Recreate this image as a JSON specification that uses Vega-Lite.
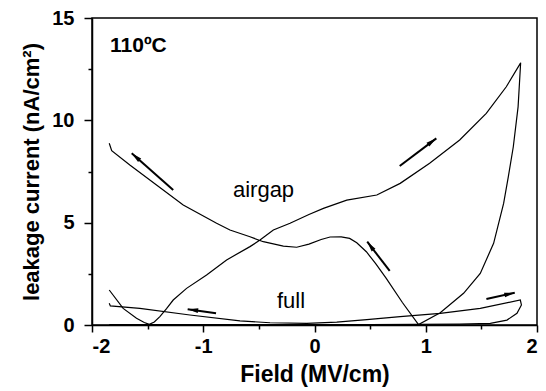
{
  "$schema": "https://vega.github.io/schema/vega-lite/v6.json",
  "width": 445,
  "height": 307,
  "autosize": "none",
  "padding": {"left": 92, "top": 18, "right": 9, "bottom": 66},
  "background": "white",
  "config": {
    "view": {"stroke": "black", "strokeWidth": 1.5},
    "font": "Liberation Sans",
    "axis": {"grid": false, "domainColor": "black", "domainWidth": 1.5, "tickColor": "black", "tickWidth": 1.5, "labelColor": "black", "titleColor": "black", "labelFont": "Liberation Sans", "titleFont": "Liberation Sans", "labelFontWeight": "bold", "titleFontWeight": "bold"}
  },
  "datasets": {
    "curves": [
      {"series": "airgap", "order": 1, "x": -1.845, "y": 1.71},
      {"series": "airgap", "order": 2, "x": -1.72, "y": 0.81},
      {"series": "airgap", "order": 3, "x": -1.6, "y": 0.33},
      {"series": "airgap", "order": 4, "x": -1.53, "y": 0.12},
      {"series": "airgap", "order": 5, "x": -1.485, "y": 0.03},
      {"series": "airgap", "order": 6, "x": -1.44, "y": 0.15},
      {"series": "airgap", "order": 7, "x": -1.39, "y": 0.41},
      {"series": "airgap", "order": 8, "x": -1.33, "y": 0.8},
      {"series": "airgap", "order": 9, "x": -1.27, "y": 1.22},
      {"series": "airgap", "order": 10, "x": -1.15, "y": 1.79},
      {"series": "airgap", "order": 11, "x": -0.97, "y": 2.44},
      {"series": "airgap", "order": 12, "x": -0.79, "y": 3.18},
      {"series": "airgap", "order": 13, "x": -0.58, "y": 3.83},
      {"series": "airgap", "order": 14, "x": -0.49, "y": 4.15},
      {"series": "airgap", "order": 15, "x": -0.37, "y": 4.64},
      {"series": "airgap", "order": 16, "x": -0.22, "y": 4.97},
      {"series": "airgap", "order": 17, "x": -0.05, "y": 5.4},
      {"series": "airgap", "order": 18, "x": 0.08, "y": 5.7},
      {"series": "airgap", "order": 19, "x": 0.29, "y": 6.1},
      {"series": "airgap", "order": 20, "x": 0.56, "y": 6.35},
      {"series": "airgap", "order": 21, "x": 0.77, "y": 6.92},
      {"series": "airgap", "order": 22, "x": 1.035, "y": 7.9},
      {"series": "airgap", "order": 23, "x": 1.305, "y": 9.04},
      {"series": "airgap", "order": 24, "x": 1.544, "y": 10.34},
      {"series": "airgap", "order": 25, "x": 1.724, "y": 11.64},
      {"series": "airgap", "order": 26, "x": 1.853, "y": 12.81},
      {"series": "airgap", "order": 27, "x": 1.83, "y": 10.66},
      {"series": "airgap", "order": 28, "x": 1.787, "y": 8.71},
      {"series": "airgap", "order": 29, "x": 1.742, "y": 7.24},
      {"series": "airgap", "order": 30, "x": 1.7, "y": 5.94},
      {"series": "airgap", "order": 31, "x": 1.61, "y": 3.99},
      {"series": "airgap", "order": 32, "x": 1.49, "y": 2.52},
      {"series": "airgap", "order": 33, "x": 1.34, "y": 1.55},
      {"series": "airgap", "order": 34, "x": 1.13, "y": 0.6},
      {"series": "airgap", "order": 35, "x": 0.935, "y": 0.02},
      {"series": "airgap", "order": 36, "x": 0.79, "y": 1.1},
      {"series": "airgap", "order": 37, "x": 0.645, "y": 2.28},
      {"series": "airgap", "order": 38, "x": 0.55, "y": 3.0},
      {"series": "airgap", "order": 39, "x": 0.466, "y": 3.58},
      {"series": "airgap", "order": 40, "x": 0.38, "y": 4.02},
      {"series": "airgap", "order": 41, "x": 0.316, "y": 4.23},
      {"series": "airgap", "order": 42, "x": 0.24, "y": 4.31},
      {"series": "airgap", "order": 43, "x": 0.14, "y": 4.3},
      {"series": "airgap", "order": 44, "x": 0.06, "y": 4.18},
      {"series": "airgap", "order": 45, "x": -0.05, "y": 3.95},
      {"series": "airgap", "order": 46, "x": -0.16, "y": 3.8},
      {"series": "airgap", "order": 47, "x": -0.28, "y": 3.85},
      {"series": "airgap", "order": 48, "x": -0.46, "y": 4.07},
      {"series": "airgap", "order": 49, "x": -0.58, "y": 4.31},
      {"series": "airgap", "order": 50, "x": -0.76, "y": 4.64},
      {"series": "airgap", "order": 51, "x": -0.88, "y": 4.97},
      {"series": "airgap", "order": 52, "x": -1.18, "y": 5.86},
      {"series": "airgap", "order": 53, "x": -1.42, "y": 6.84},
      {"series": "airgap", "order": 54, "x": -1.66, "y": 7.82},
      {"series": "airgap", "order": 55, "x": -1.823, "y": 8.52},
      {"series": "airgap", "order": 56, "x": -1.845, "y": 8.88},
      {"series": "full", "order": 1, "x": -1.845, "y": 1.06},
      {"series": "full", "order": 2, "x": -1.835, "y": 0.93},
      {"series": "full", "order": 3, "x": -1.57, "y": 0.81},
      {"series": "full", "order": 4, "x": -1.12, "y": 0.49},
      {"series": "full", "order": 5, "x": -0.67, "y": 0.2},
      {"series": "full", "order": 6, "x": -0.4, "y": 0.11},
      {"series": "full", "order": 7, "x": -0.07, "y": 0.08},
      {"series": "full", "order": 8, "x": 0.2, "y": 0.14},
      {"series": "full", "order": 9, "x": 0.47, "y": 0.26},
      {"series": "full", "order": 10, "x": 0.77, "y": 0.41},
      {"series": "full", "order": 11, "x": 1.13, "y": 0.57},
      {"series": "full", "order": 12, "x": 1.49, "y": 0.81},
      {"series": "full", "order": 13, "x": 1.85, "y": 1.22},
      {"series": "full", "order": 14, "x": 1.86, "y": 0.98},
      {"series": "full", "order": 15, "x": 1.82, "y": 0.57},
      {"series": "full", "order": 16, "x": 1.73, "y": 0.24},
      {"series": "full", "order": 17, "x": 1.58, "y": 0.08},
      {"series": "full", "order": 18, "x": 1.3, "y": 0.04},
      {"series": "full", "order": 19, "x": 0.5, "y": 0.02},
      {"series": "full", "order": 20, "x": -1.0, "y": 0.02},
      {"series": "full", "order": 21, "x": -1.845, "y": 0.02}
    ],
    "arrows": [
      {"x": -1.27, "y": 6.6, "x2": -1.643, "y2": 8.39, "angle": 311},
      {"x": 0.766, "y": 7.77, "x2": 1.095, "y2": 9.12, "angle": 53},
      {"x": 0.676, "y": 2.64, "x2": 0.474, "y2": 4.07, "angle": 323},
      {"x": -0.885, "y": 0.57, "x2": -1.14, "y2": 0.77, "angle": 278},
      {"x": 1.545, "y": 1.27, "x2": 1.8, "y2": 1.58, "angle": 77}
    ],
    "labels": [
      {"text": "airgap", "x": -0.733, "y": 6.25},
      {"text": "full", "x": -0.337, "y": 0.83}
    ],
    "temp": [
      {"text": "110ºC", "x": -1.838, "y": 13.34}
    ]
  },
  "resolve": {"axis": {"x": "independent", "y": "independent"}},
  "layer": [
    {
      "data": {"name": "curves"},
      "mark": {"type": "line", "color": "black", "strokeWidth": 1.2, "clip": true},
      "encoding": {
        "x": {"field": "x", "type": "quantitative", "scale": {"domain": [-2, 2], "nice": false},
          "axis": {"orient": "bottom", "values": [-2, -1, 0, 1, 2], "labelExpr": "toString(datum.value)", "tickSize": 7, "labelPadding": 4, "labelFontSize": 20, "labelFontWeight": "bold", "title": "Field (MV/cm)", "titleFontSize": 23, "titlePadding": 7}},
        "y": {"field": "y", "type": "quantitative", "scale": {"domain": [0, 15], "nice": false},
          "axis": {"orient": "left", "values": [0, 5, 10, 15], "tickSize": 8, "labelPadding": 10, "labelFontSize": 20, "labelFontWeight": "bold", "title": "leakage current (nA/cm²)", "titleFontSize": 22, "titlePadding": 8}},
        "detail": {"field": "series"},
        "order": {"field": "order", "type": "quantitative"}
      }
    },
    {
      "data": {"name": "arrows"},
      "mark": {"type": "rule", "color": "black", "strokeWidth": 2},
      "encoding": {
        "x": {"field": "x", "type": "quantitative",
          "axis": {"orient": "bottom", "values": [-1.5, -0.5, 0.5, 1.5], "labels": false, "domain": false, "tickSize": 4, "title": null}},
        "y": {"field": "y", "type": "quantitative",
          "axis": {"orient": "left", "values": [2.5, 7.5, 12.5], "labels": false, "domain": false, "tickSize": 4, "title": null}},
        "x2": {"field": "x2"},
        "y2": {"field": "y2"}
      }
    },
    {
      "data": {"name": "arrows"},
      "mark": {"type": "point", "filled": true, "color": "black", "opacity": 1, "strokeWidth": 0, "shape": "M0,0L0.45,2L-0.45,2Z", "size": 110},
      "encoding": {
        "x": {"field": "x2", "type": "quantitative", "axis": null},
        "y": {"field": "y2", "type": "quantitative", "axis": null},
        "angle": {"field": "angle", "type": "quantitative", "scale": null}
      }
    },
    {
      "data": {"name": "labels"},
      "mark": {"type": "text", "align": "left", "baseline": "alphabetic", "fontSize": 22, "fontWeight": "normal", "color": "black", "font": "Liberation Sans"},
      "encoding": {
        "x": {"field": "x", "type": "quantitative", "axis": null},
        "y": {"field": "y", "type": "quantitative", "axis": null},
        "text": {"field": "text"}
      }
    },
    {
      "data": {"name": "temp"},
      "mark": {"type": "text", "align": "left", "baseline": "alphabetic", "fontSize": 21, "fontWeight": "bold", "color": "black", "font": "Liberation Sans"},
      "encoding": {
        "x": {"field": "x", "type": "quantitative", "axis": null},
        "y": {"field": "y", "type": "quantitative", "axis": null},
        "text": {"field": "text"}
      }
    }
  ]
}
